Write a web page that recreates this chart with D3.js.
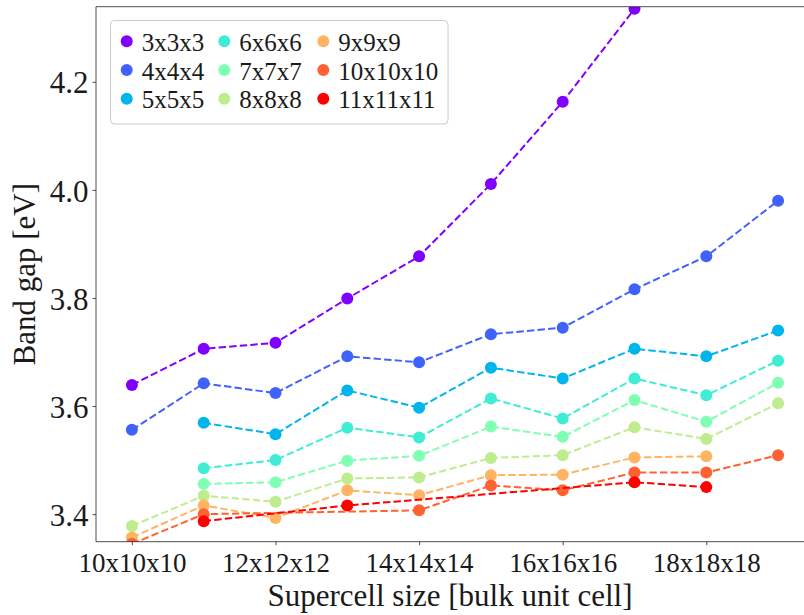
<!DOCTYPE html>
<html>
<head>
<meta charset="utf-8">
<script src="https://cdn.jsdelivr.net/npm/d3@7"></script>
<style>
  html, body { margin: 0; padding: 0; background: #ffffff; }
  svg { display: block; }
  text { font-family: "Liberation Serif", "DejaVu Serif", serif; fill: #1a1a1a; }
</style>
</head>
<body>
<svg id="chart" width="804" height="615"></svg>
<script>
// Supercell sizes along the x axis (N means an NxNxN supercell)
const supercells = [10, 11, 12, 13, 14, 15, 16, 17, 18, 19];
const xTickValues = [10, 12, 14, 16, 18];
const xTickLabels = ["10x10x10", "12x12x12", "14x14x14", "16x16x16", "18x18x18"];
const yTickValues = [3.4, 3.6, 3.8, 4.0, 4.2];

// k-point grid of each series
const seriesNames = ["3x3x3", "4x4x4", "5x5x5", "6x6x6", "7x7x7", "8x8x8", "9x9x9", "10x10x10", "11x11x11"];

// Band gap [eV] per supercell size; null where not computed
const gap3  = [3.639, 3.706, 3.717, 3.799, 3.877, 4.011, 4.163, 4.335, null, null];
const gap4  = [3.556, 3.642, 3.624, 3.692, 3.681, 3.733, 3.745, 3.816, 3.877, 3.980];
const gap5  = [null, 3.569, 3.548, 3.629, 3.597, 3.671, 3.651, 3.706, 3.692, 3.740];
const gap6  = [null, 3.485, 3.500, 3.560, 3.542, 3.614, 3.577, 3.651, 3.620, 3.684];
const gap7  = [null, 3.456, 3.459, 3.499, 3.508, 3.562, 3.543, 3.611, 3.571, 3.643];
const gap8  = [3.378, 3.434, 3.423, 3.466, 3.468, 3.504, 3.509, 3.561, 3.539, 3.605];
const gap9  = [3.357, 3.416, 3.393, 3.444, 3.435, 3.472, 3.473, 3.505, 3.507, null];
const gap10 = [3.345, 3.400, null, null, 3.407, 3.453, 3.444, 3.477, 3.477, 3.509];
const gap11 = [null, 3.387, null, 3.416, null, null, null, 3.459, 3.450, null];

const seriesValues = [gap3, gap4, gap5, gap6, gap7, gap8, gap9, gap10, gap11];

// rainbow colormap sampled evenly over the nine series
const rainbow = t => {
  const c = v => Math.round(Math.max(0, Math.min(1, v)) * 255);
  return d3.rgb(c(Math.abs(2 * t - 0.5)), c(Math.sin(Math.PI * t)), c(Math.cos(Math.PI * t / 2))).formatHex();
};
const colors = seriesNames.map((_, i) => rainbow(i / (seriesNames.length - 1)));

const svg = d3.select("#chart");
const plot = { left: 96, right: 814, top: 6.7, bottom: 541.7 };

const x = d3.scaleLinear().domain([9.5, 19.5]).range([plot.left, plot.right]);
const y = d3.scaleLinear().domain([3.349, 4.339]).range([plot.bottom, plot.top]);

svg.append("defs").append("clipPath").attr("id", "plot-clip")
  .append("rect")
  .attr("x", plot.left).attr("y", plot.top)
  .attr("width", plot.right - plot.left).attr("height", plot.bottom - plot.top);

// series: dashed line plus circular markers, drawn in order
const marks = svg.append("g").attr("clip-path", "url(#plot-clip)");
const line = d3.line().x(d => x(d.x)).y(d => y(d.v));

seriesValues.forEach((vals, i) => {
  const pts = supercells.map((s, j) => ({ x: s, v: vals[j] })).filter(d => d.v !== null);
  const g = marks.append("g");
  g.append("path")
    .datum(pts)
    .attr("d", line)
    .attr("fill", "none")
    .attr("stroke", colors[i])
    .attr("stroke-width", 2)
    .attr("stroke-dasharray", "7.4,3.2");
  g.selectAll("circle").data(pts).join("circle")
    .attr("cx", d => x(d.x))
    .attr("cy", d => y(d.v))
    .attr("r", 6)
    .attr("fill", colors[i]);
});

// axes
const yAxis = d3.axisLeft(y).tickValues(yTickValues).tickFormat(d3.format(".1f"))
  .tickSize(3.5).tickPadding(4);
const gy = svg.append("g").attr("transform", `translate(${plot.left},0)`).call(yAxis);
gy.select(".domain").remove();
gy.selectAll("line").attr("stroke", "#222").attr("stroke-width", 0.8);
gy.selectAll("text").attr("font-size", 31).attr("dy", "0.36em")
  .attr("font-family", null).attr("fill", null);

const xAxis = d3.axisBottom(x).tickValues(xTickValues)
  .tickFormat((d, i) => xTickLabels[i]).tickSize(3.5).tickPadding(4);
const gx = svg.append("g").attr("transform", `translate(0,${plot.bottom})`).call(xAxis);
gx.select(".domain").remove();
gx.selectAll("line").attr("stroke", "#222").attr("stroke-width", 0.8);
gx.selectAll("text").attr("font-size", 27).attr("y", 0).attr("dy", 30.5)
  .attr("font-family", null).attr("fill", null);

// spines
const spines = svg.append("g").attr("stroke", "#222").attr("stroke-width", 0.8).attr("fill", "none");
spines.append("line").attr("x1", plot.left).attr("x2", plot.left).attr("y1", plot.top).attr("y2", plot.bottom);
spines.append("line").attr("x1", plot.left).attr("x2", plot.right).attr("y1", plot.bottom).attr("y2", plot.bottom);
spines.append("line").attr("x1", plot.left).attr("x2", plot.right).attr("y1", plot.top).attr("y2", plot.top);
spines.append("line").attr("x1", plot.right).attr("x2", plot.right).attr("y1", plot.top).attr("y2", plot.bottom);

// axis titles
svg.append("text")
  .attr("x", 450).attr("y", 606)
  .attr("text-anchor", "middle").attr("font-size", 31)
  .text("Supercell size [bulk unit cell]");
svg.append("text")
  .attr("transform", `translate(35,${(plot.top + plot.bottom) / 2}) rotate(-90)`)
  .attr("text-anchor", "middle").attr("font-size", 31)
  .text("Band gap [eV]");

// legend: three columns, filled column by column
const legend = svg.append("g");
legend.append("rect")
  .attr("x", 110.5).attr("y", 20.5).attr("width", 337.5).attr("height", 103.5)
  .attr("rx", 4).attr("fill", "#ffffff").attr("fill-opacity", 0.8)
  .attr("stroke", "#cccccc").attr("stroke-width", 1);
const colX = [126.7, 224.3, 323.3];
const rowY = [41.3, 70, 98.7];
seriesNames.forEach((name, i) => {
  const c = Math.floor(i / 3), r = i % 3;
  legend.append("circle").attr("cx", colX[c]).attr("cy", rowY[r]).attr("r", 6).attr("fill", colors[i]);
  legend.append("text").attr("x", colX[c] + 15).attr("y", rowY[r] + 9.5)
    .attr("font-size", 25).text(name);
});
</script>
</body>
</html>
